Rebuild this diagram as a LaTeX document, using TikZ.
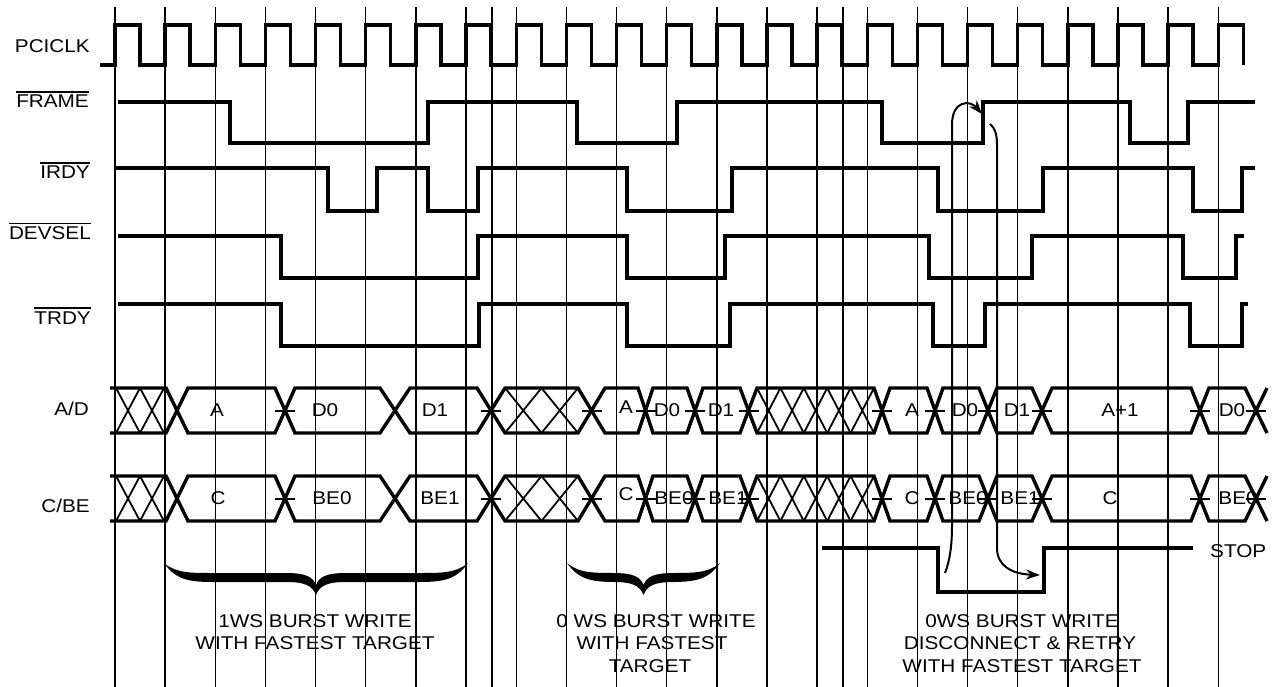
\documentclass[tikz,border=0pt]{standalone}
\usepackage{fontspec}
\setmainfont{Liberation Sans}[FakeStretch=1.12]
\usetikzlibrary{arrows.meta}
\newcommand\ovl[1]{\leavevmode\vbox{\hrule height 1.3pt\kern 2.6pt\hbox{#1}}}
\begin{document}
\begin{tikzpicture}[x=1pt,y=-1pt,
  sig/.style={line width=3.4pt, line join=miter, line cap=butt},
  gridln/.style={line width=1.4pt},
  hatch/.style={line width=1.8pt},
  tick/.style={line width=2pt},
  arr/.style={line width=2pt, -{Stealth[length=14pt,width=10pt]}},
  lbl/.style={font=\fontsize{18.5}{22.5}\selectfont, inner sep=0pt},
  brace/.style={fill=black}]
\useasboundingbox (0,0) rectangle (1274,687);
% grid lines
\foreach \k in {0,...,22} \draw[gridln] ({115+\k*50.15},7) -- ({115+\k*50.15},687);
\draw[gridln] (492,7) -- (492,687);
\draw[gridln] (843,7) -- (843,687);
% clock
\draw[sig] (100,65) foreach \k in {0,...,22} { -- ({115+\k*50.15},65) -- ({115+\k*50.15},25) -- ({140+\k*50.15},25) -- ({140+\k*50.15},65) };
% FRAME
\draw[sig] (118,102) -- (230,102) -- (230,143) -- (428,143) -- (428,102) -- (577,102) -- (577,143) -- (677,143) -- (677,102) -- (882,102) -- (882,143) -- (983,143) -- (983,102) -- (1130,102) -- (1130,143) -- (1188,143) -- (1188,102) -- (1255,102);
% IRDY
\draw[sig] (116,168) -- (328,168) -- (328,211) -- (377,211) -- (377,168) -- (428,168) -- (428,211) -- (478,211) -- (478,168) -- (627,168) -- (627,211) -- (732,211) -- (732,168) -- (938,168) -- (938,211) -- (1043,211) -- (1043,168) -- (1193,168) -- (1193,211) -- (1242,211) -- (1242,168) -- (1255,168);
% DEVSEL
\draw[sig] (118,236) -- (281,236) -- (281,278) -- (478,278) -- (478,236) -- (627,236) -- (627,278) -- (725,278) -- (725,236) -- (929,236) -- (929,278) -- (1032,278) -- (1032,236) -- (1183,236) -- (1183,278) -- (1236,278) -- (1236,236) -- (1244,236);
% TRDY
\draw[sig] (118,304) -- (281,304) -- (281,346) -- (479,346) -- (479,304) -- (627,304) -- (627,346) -- (730,346) -- (730,304) -- (933,304) -- (933,346) -- (985,346) -- (985,304) -- (1190,304) -- (1190,346) -- (1242,346) -- (1242,304) -- (1248,304);
% STOP
\draw[sig] (822,548) -- (938,548) -- (938,592) -- (1044,592) -- (1044,548) -- (1193,548);
% buses
\foreach \t/\b/\m in {388/433/410.5, 476/521/498.5} {
  \draw[sig] (110,\t) -- (166,\t) -- (188,\b) -- (275,\b) -- (295,\t) -- (380,\t) -- (410,\b) -- (477,\b) -- (505,\t) -- (578,\t) -- (605,\b) -- (638,\b) -- (653,\t) -- (687,\t) -- (703,\b) -- (740,\b) -- (757,\t) -- (874,\t) -- (890,\b) -- (927,\b) -- (943,\t) -- (979,\t) -- (997,\b) -- (1032,\b) -- (1052,\t) -- (1191,\t) -- (1209,\b) -- (1245,\b) -- (1267,\t);
  \draw[sig] (110,\b) -- (166,\b) -- (188,\t) -- (275,\t) -- (295,\b) -- (380,\b) -- (410,\t) -- (477,\t) -- (505,\b) -- (578,\b) -- (605,\t) -- (638,\t) -- (653,\b) -- (687,\b) -- (703,\t) -- (740,\t) -- (757,\b) -- (874,\b) -- (890,\t) -- (927,\t) -- (943,\b) -- (979,\b) -- (997,\t) -- (1032,\t) -- (1052,\b) -- (1191,\b) -- (1209,\t) -- (1245,\t) -- (1267,\b);
  \foreach \xa/\w in {116/24, 140/24, 505/36.5, 541.5/36.5, 757/23.4, 780.4/23.4, 803.8/23.4, 827.2/23.4, 850.6/23.4}
    \draw[hatch] (\xa,\t) -- ({\xa+\w},\b) (\xa,\b) -- ({\xa+\w},\t);
  \foreach \c in {285, 491, 591.5, 645.5, 695, 748.5, 882, 935, 988, 1042, 1200, 1256}
    \draw[tick] ({\c-10},\m) -- ({\c+10},\m);
}
% signal labels
\node[lbl, anchor=base east] (lclk) at (90,53) {PCICLK};
\node[lbl, anchor=base east] (lframe) at (89,108) {\ovl{FRAME}};
\node[lbl, anchor=base east] (lirdy) at (90,179) {\ovl{IRDY}};
\node[lbl, anchor=base east] (ldevsel) at (91,240) {\ovl{DEVSEL}};
\node[lbl, anchor=base east] (ltrdy) at (91,324) {\ovl{TRDY}};
\node[lbl, anchor=base east] (lad) at (89,415) {A/D};
\node[lbl, anchor=base east] (lcbe) at (90,512) {C/BE};
\node[lbl, anchor=base west] (lstop) at (1210,557) {STOP};
% bus labels
\foreach \x/\y/\s [count=\i] in {217/416/A, 325/416/D0, 435/416/D1, 626/413/A, 667/416/D0, 721/416/D1, 912/416/A, 965/416/D0, 1017/416/D1, 1120/416/A+1, 1232/416/D0}
  \node[lbl, anchor=base] (ad\i) at (\x,\y) {\s};
\foreach \x/\y/\s [count=\i] in {218/504/C, 332/504/BE0, 440/504/BE1, 626/500/C, 674/504/BE0, 728/504/BE1, 912/504/C, 968/504/BE0, 1020/504/BE1, 1110/504/C, 1238/504/BE0}
  \node[lbl, anchor=base] (cb\i) at (\x,\y) {\s};
% braces
\foreach \a/\b [count=\i] in {164/468, 567/720} {
  \pgfmathsetmacro\mm{(\a+\b)/2}
  \fill[brace] (\a,563) .. controls ({\a+12},573) and ({\a+25},573) .. ({\a+50},573) -- ({\mm-30},573) .. controls ({\mm-10},573) and ({\mm-3},577) .. (\mm,585) .. controls ({\mm+3},577) and ({\mm+10},573) .. ({\mm+30},573) -- ({\b-50},573) .. controls ({\b-25},573) and ({\b-12},573) .. (\b,563) .. controls ({\b-12},580) and ({\b-25},582) .. ({\b-50},582) -- ({\mm+30},582) .. controls ({\mm+12},582) and ({\mm+4},585) .. (\mm,595) .. controls ({\mm-4},585) and ({\mm-12},582) .. ({\mm-30},582) -- ({\a+50},582) .. controls ({\a+25},582) and ({\a+12},580) .. (\a,563) -- cycle;
}
% captions
\node[lbl, anchor=base] (c1a) at (315,627) {1WS BURST WRITE};
\node[lbl, anchor=base] (c1b) at (315,649) {WITH FASTEST TARGET};
\node[lbl, anchor=base] (c2a) at (656,627) {0 WS BURST WRITE};
\node[lbl, anchor=base] (c2b) at (652,649) {WITH FASTEST};
\node[lbl, anchor=base] (c2c) at (650,672) {TARGET};
\node[lbl, anchor=base] (c3a) at (1022,627) {0WS BURST WRITE};
\node[lbl, anchor=base] (c3b) at (1020,649) {DISCONNECT \& RETRY};
\node[lbl, anchor=base] (c3c) at (1022,672) {WITH FASTEST TARGET};
% causal arrows
\coordinate (s1) at (945,573);
\coordinate (e1) at (982,114);
\coordinate (s2) at (990,124);
\coordinate (e2) at (1040,575);
\draw[arr] (s1) .. controls (950,560) and (952,545) .. (952,525) -- (952,125) .. controls (952,100) and (970,100) .. (e1);
\draw[arr] (s2) .. controls (995,128) and (997,134) .. (997,145) -- (997,548) .. controls (997,566) and (1012,574) .. (e2);
\end{tikzpicture}
\end{document}
